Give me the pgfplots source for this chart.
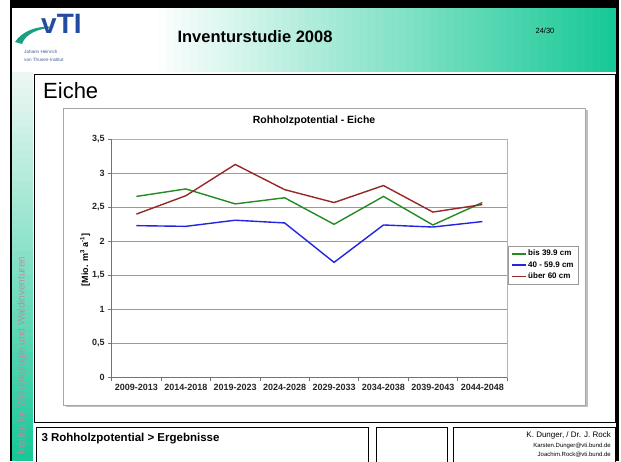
\documentclass[border=0pt]{standalone}
\usepackage{fontspec}
\setmainfont{Liberation Sans}
\usepackage{pgfplots}
\pgfplotsset{compat=1.18}
\definecolor{vtiteal}{RGB}{24,200,150}
\definecolor{sidetop}{RGB}{236,247,243}
\definecolor{sidetext}{RGB}{190,140,165}
\definecolor{logoblue}{RGB}{35,75,160}
\definecolor{logogreen}{RGB}{25,160,130}
\definecolor{gGreen}{RGB}{34,139,34}
\definecolor{gBlue}{RGB}{35,35,230}
\definecolor{gRed}{RGB}{150,40,40}

\pgfplotstableread{
x   bis   mid   ueber
0.5 2.66  2.23  2.40
1.5 2.77  2.22  2.67
2.5 2.55  2.31  3.13
3.5 2.64  2.27  2.76
4.5 2.25  1.69  2.57
5.5 2.66  2.24  2.82
6.5 2.24  2.21  2.43
7.5 2.57  2.29  2.54
}\datatable

\begin{document}
\begin{tikzpicture}[x=1pt,y=1pt]
\useasboundingbox (0,0) rectangle (621,461);
\fill[white] (0,0) rectangle (621,461);
% header gradient (strips)
\foreach \i in {0,...,59}{
  \pgfmathsetmacro{\p}{100*\i/59}
  \pgfmathsetmacro{\xa}{150+\i*7.767}
  \fill[vtiteal!\p!white] (\xa,389) rectangle ({\xa+8.3},453);
}
% sidebar gradient (strips)
\foreach \i in {0,...,49}{
  \pgfmathsetmacro{\p}{100*\i/49}
  \pgfmathsetmacro{\ya}{389-\i*7.78}
  \fill[vtiteal!\p!sidetop] (12,\ya) rectangle (33,{\ya-8.2});
}
\node[rotate=90, text=sidetext, font=\fontsize{10}{12}\selectfont] at (22,105.5) {Institut für Waldökologie und Waldinventuren};
% logo
\fill[logogreen] (15,419) .. controls (22,430) and (38,436) .. (54,434) .. controls (38,432) and (26,428) .. (22,417) -- cycle;
\node[anchor=base west, inner sep=0, font=\fontsize{28}{30}\selectfont\bfseries, text=logoblue] at (41,427) {vTI};
\node[anchor=west, inner sep=0, font=\fontsize{4.6}{5}\selectfont, text=logoblue!70!gray] at (24,409) {Johann Heinrich};
\node[anchor=west, inner sep=0, font=\fontsize{4.6}{5}\selectfont, text=logoblue!70!gray] at (24,401) {von Thünen-Institut};
% header texts
\node[font=\fontsize{16.5}{20}\selectfont\bfseries] at (255,424) {Inventurstudie 2008};
\node[font=\fontsize{7.5}{9}\selectfont] at (545,430) {24/30};
% content box
\draw[black, line width=1pt] (34.5,39) rectangle (615.5,386);
\node[anchor=base west, inner sep=0, font=\fontsize{22}{26}\selectfont] at (43,362) {Eiche};
% chart frame
\fill[black!25] (65.5,54) rectangle (587.5,351);
\filldraw[fill=white, draw=black!35, line width=0.8pt] (63,56) rectangle (585,353);
\node[font=\fontsize{10.5}{12}\selectfont\bfseries] at (314,340.3) {Rohholzpotential - Eiche};
% footer
\draw[black, line width=1pt] (36,-2) rectangle (368,34);
\draw[black, line width=1pt] (376,-2) rectangle (447,34);
\draw[black, line width=1pt] (453,-2) rectangle (615.5,34);
\node[anchor=west, font=\fontsize{11.5}{14}\selectfont\bfseries] at (38,22) {3 Rohholzpotential > Ergebnisse};
\node[anchor=east, inner sep=0, font=\fontsize{8}{9}\selectfont] at (611,26) {K. Dunger, / Dr. J. Rock};
\node[anchor=east, inner sep=0, font=\fontsize{6}{7}\selectfont] at (611,15) {Karsten.Dunger@vti.bund.de};
\node[anchor=east, inner sep=0, font=\fontsize{6}{7}\selectfont] at (611,6.5) {Joachim.Rock@vti.bund.de};

\begin{axis}[
  name=ax,
  at={(111.7pt,83.7pt)}, anchor=south west,
  scale only axis, width=395.3pt, height=238pt,
  xmin=0, xmax=8, ymin=0, ymax=3.5,
  xtick={0.5,1.5,...,7.5},
  xticklabels={2009-2013,2014-2018,2019-2023,2024-2028,2029-2033,2034-2038,2039-2043,2044-2048},
  minor xtick={0,1,...,8},
  ytick={0,0.5,...,3.5},
  tick pos=left,
  tick align=outside, major tick length=3.5pt, minor tick length=4pt,
  major x tick style={draw=none},
  tick style={black!55, line width=0.6pt},
  ymajorgrids, major grid style={black!40, line width=0.7pt},
  axis line style={black!30, line width=0.7pt},
  /pgf/number format/.cd, use comma, fixed, precision=1, assume math mode=true, /pgfplots/.cd,
  ticklabel style={font=\fontsize{9}{10}\selectfont\bfseries, text=black!85},
  ylabel={[Mio. m\textsuperscript{3} a\textsuperscript{-1}]},
  ylabel style={font=\fontsize{9}{10}\selectfont\bfseries, at={(axis description cs:-0.0675,0.493)}, anchor=center},
  legend style={at={(1.0025,0.5517)}, anchor=north west, draw=black!40,
    font=\fontsize{8}{9}\selectfont\bfseries},
  legend cell align=left,
  legend image post style={xscale=0.8},
]
\addplot[color=gGreen, line width=1.4pt] table[x=x, y=bis] {\datatable};
\addlegendentry{bis 39.9 cm}
\addplot[color=gBlue, line width=1.4pt] table[x=x, y=mid] {\datatable};
\addlegendentry{40 - 59.9 cm}
\addplot[color=gRed, line width=1.4pt] table[x=x, y=ueber] {\datatable};
\addlegendentry{über 60 cm}
\end{axis}
\draw[black!55, line width=0.7pt] (ax.north west) -- (ax.south west) -- (ax.south east);
% slide frame, drawn last
\fill[black] (10,0) rectangle (12,461);
\fill[black] (616,0) rectangle (619,461);
\fill[black] (10,452.5) rectangle (619,461);
\end{tikzpicture}
\end{document}
